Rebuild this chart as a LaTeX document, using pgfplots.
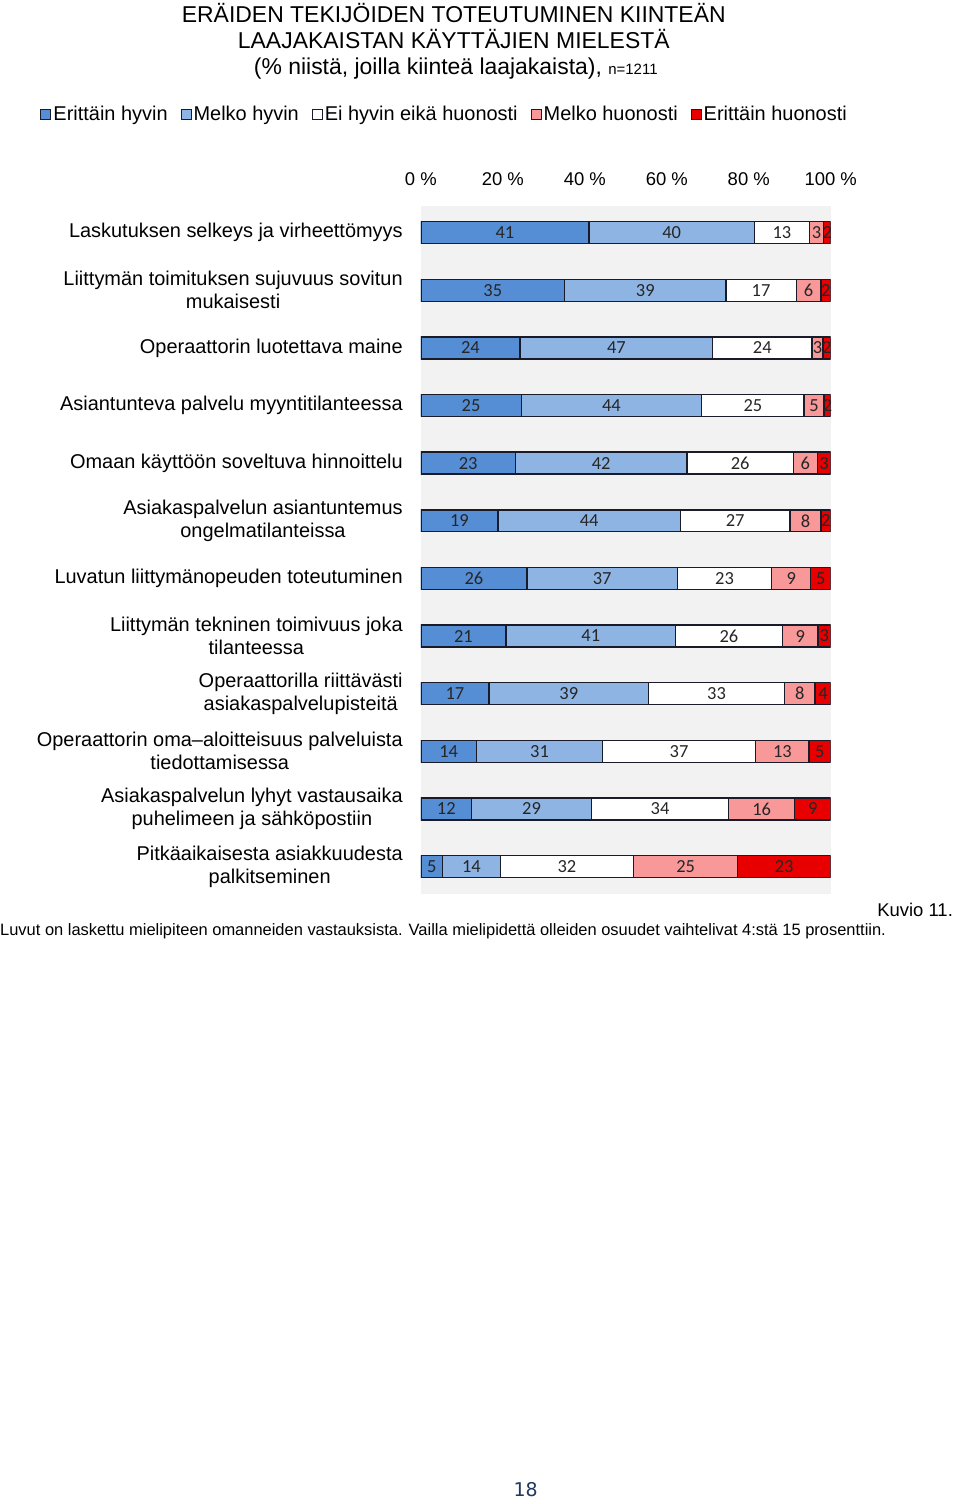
\documentclass[border=0pt]{standalone}
\usepackage{pgfplots}
\pgfplotsset{compat=1.18}
\usepackage{pgfplotstable}
\usepackage{fontspec}
\setmainfont{Liberation Sans}
\newfontfamily\carlito{Carlito}
\newfontfamily\dejavu{DejaVu Sans}

\definecolor{ehyvin}{RGB}{85,142,213}
\definecolor{mhyvin}{RGB}{142,180,227}
\definecolor{eihyvin}{RGB}{255,255,255}
\definecolor{mhuono}{RGB}{248,152,152}
\definecolor{ehuono}{RGB}{232,0,0}
\definecolor{bggray}{RGB}{242,242,242}
\definecolor{edge}{RGB}{25,28,40}
\definecolor{pagenum}{RGB}{31,56,100}

% widths (sum 100), labels as printed
\pgfplotstableread{
y  a    b    c    d    e    la lb lc ld le
1  41.0 40.4 13.4 3.5  1.7  41 40 13 3  2
2  35.1 39.3 17.2 6.0  2.4  35 39 17 6  2
3  24.2 47.0 24.2 2.7  1.9  24 47 24 3  2
4  24.5 44.0 25.0 4.9  1.6  25 44 25 5  2
5  23.1 41.8 26.0 5.8  3.3  23 42 26 6  3
6  18.8 44.5 26.8 7.5  2.4  19 44 27 8  2
7  25.9 36.7 23.0 9.5  4.9  26 37 23 9  5
8  20.8 41.3 26.1 8.7  3.1  21 41 26 9  3
9  16.6 39.0 33.1 7.5  3.8  17 39 33 8  4
10 13.6 30.7 37.4 13.0 5.3  14 31 37 13 5
11 12.4 29.2 33.5 16.1 8.8  12 29 34 16 9
12 5.3  14.1 32.5 25.4 22.7 5  14 32 25 23
}\rows

\begin{document}
\begin{tikzpicture}
\path (0,0) rectangle (960pt,-1504pt);

\node[anchor=base, font=\fontsize{23}{25}\selectfont] at (455pt,-18.5pt) {ERÄIDEN TEKIJÖIDEN TOTEUTUMINEN KIINTEÄN};
\node[anchor=base, font=\fontsize{23}{25}\selectfont] at (455pt,-44.5pt) {LAAJAKAISTAN KÄYTTÄJIEN MIELESTÄ};
\node[anchor=base, font=\fontsize{23}{25}\selectfont] at (457pt,-71pt) {(\% niistä, joilla kiinteä laajakaista), {\fontsize{15}{16}\selectfont n=1211}};

\begin{axis}[
  at={(422pt,-202pt)}, anchor=north west,
  width=411pt, height=690pt, scale only axis,
  xbar stacked, bar width=22pt,
  xmin=0, xmax=100, ymin=0.53, ymax=12.47, y dir=reverse,
  axis background/.style={fill=bggray},
  axis line style={draw=none},
  major tick length=0pt,
  xtick={0,20,40,60,80,100},
  xticklabels={0 \%,20 \%,40 \%,60 \%,80 \%,100 \%},
  xticklabel pos=upper,
  xticklabel style={font=\fontsize{18.5}{20}\selectfont, yshift=16pt},
  ytick={1,...,12},
  yticklabels={
    Laskutuksen selkeys ja virheettömyys,
    Liittymän toimituksen sujuvuus sovitun\\mukaisesti,
    Operaattorin luotettava maine,
    Asiantunteva palvelu myyntitilanteessa,
    Omaan käyttöön soveltuva hinnoittelu,
    Asiakaspalvelun asiantuntemus\\ongelmatilanteissa,
    Luvatun liittymänopeuden toteutuminen,
    Liittymän tekninen toimivuus joka\\tilanteessa,
    Operaattorilla riittävästi\\asiakaspalvelupisteitä,
    Operaattorin oma–aloitteisuus palveluista\\tiedottamisessa,
    Asiakaspalvelun lyhyt vastausaika\\puhelimeen ja sähköpostiin,
    Pitkäaikaisesta asiakkuudesta\\palkitseminen},
  yticklabel style={align=center, anchor=east, inner sep=0pt, xshift=-18pt,
    font=\fontsize{20}{23}\selectfont},
  every axis plot/.append style={draw=edge, line width=1.4pt},
  point meta=explicit symbolic,
  nodes near coords={\pgfplotspointmeta},
  every node near coord/.append style={font=\carlito\fontsize{18.5}{18.5}\selectfont, text=black!85},
  legend columns=-1,
  legend style={at={(0.058,1.133)}, anchor=center, draw=none, fill=none,
    font=\fontsize{20}{22}\selectfont,
    /tikz/every even column/.append style={column sep=11pt}},
  legend image code/.code={\draw[#1, line width=1pt] (0pt,-5pt) rectangle (10pt,5pt);},
]
\addplot[fill=ehyvin] table[x=a, y=y, meta=la] {\rows};
\addplot[fill=mhyvin] table[x=b, y=y, meta=lb] {\rows};
\addplot[fill=eihyvin] table[x=c, y=y, meta=lc] {\rows};
\addplot[fill=mhuono] table[x=d, y=y, meta=ld] {\rows};
\addplot[fill=ehuono] table[x=e, y=y, meta=le] {\rows};
\legend{Erittäin hyvin, Melko hyvin, Ei hyvin eikä huonosti, Melko huonosti, Erittäin huonosti}
\end{axis}

\node[anchor=base east, font=\fontsize{18.5}{20}\selectfont] at (959pt,-915pt) {Kuvio 11.};
\node[anchor=base west, inner sep=0pt, font=\fontsize{16.5}{18}\selectfont] at (0pt,-934pt) {Luvut on laskettu mielipiteen omanneiden vastauksista. Vailla mielipidettä olleiden osuudet vaihtelivat 4:stä 15 prosenttiin.};
\node[font=\dejavu\fontsize{19}{21}\selectfont, text=pagenum] at (527pt,-1490pt) {18};
\end{tikzpicture}
\end{document}
